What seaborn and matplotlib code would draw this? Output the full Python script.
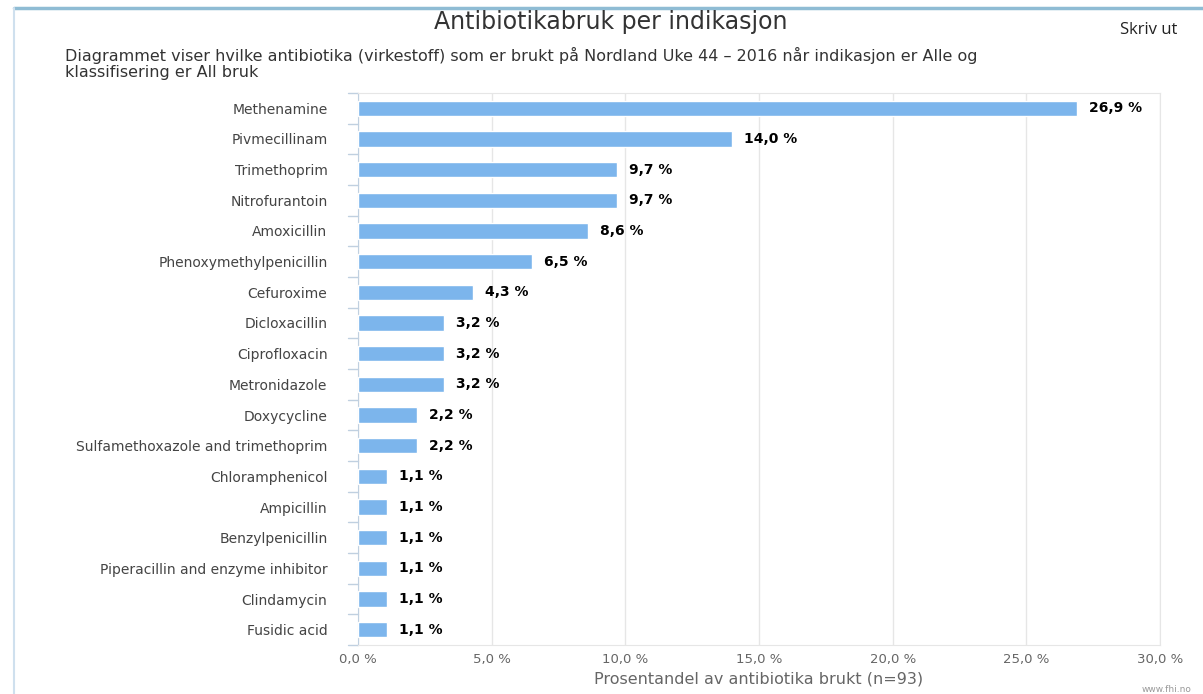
import matplotlib
matplotlib.use("Agg")
import matplotlib.pyplot as plt
import seaborn as sns
import pandas as pd
from matplotlib.lines import Line2D

categories = ["Methenamine", "Pivmecillinam", "Trimethoprim", "Nitrofurantoin",
              "Amoxicillin", "Phenoxymethylpenicillin", "Cefuroxime", "Dicloxacillin",
              "Ciprofloxacin", "Metronidazole", "Doxycycline",
              "Sulfamethoxazole and trimethoprim", "Chloramphenicol", "Ampicillin",
              "Benzylpenicillin", "Piperacillin and enzyme inhibitor", "Clindamycin",
              "Fusidic acid"]
values = [26.9, 14.0, 9.7, 9.7, 8.6, 6.5, 4.3, 3.2, 3.2, 3.2, 2.2, 2.2,
          1.1, 1.1, 1.1, 1.1, 1.1, 1.1]
xticks = [0, 5, 10, 15, 20, 25, 30]

df = pd.DataFrame({"cat": categories, "val": values})

sns.set_style("white")
plt.rcParams['font.family'] = ['DejaVu Sans']

fig = plt.figure(figsize=(12.03, 6.94), dpi=100)
ax = fig.add_axes([358/1203, 1-645/694, (1160-358)/1203, (645-93)/694])

sns.barplot(data=df, y="cat", x="val", color="#7cb5ec", saturation=1,
            width=0.5, orient="h", ax=ax, zorder=3)

ax.set_xlim(0, 30)
ax.set_ylim(len(categories)-0.5, -0.5)
ax.set_xticks(xticks)
ax.set_xticklabels([f"{t:.1f} %".replace(".", ",") for t in xticks],
                   color="#666666", fontsize=9.5)
ax.tick_params(axis="x", length=0, pad=6)
ax.tick_params(axis="y", length=0, pad=22, labelsize=10, labelcolor="#444444")
ax.grid(axis="x", color="#e6e6e6", linewidth=1, zorder=0)
ax.set_axisbelow(True)
ax.set_ylabel("")
ax.set_xlabel("Prosentandel av antibiotika brukt (n=93)", color="#666666",
              fontsize=11.5, labelpad=4)
for s in ["top", "right", "bottom"]:
    ax.spines[s].set_color("#e6e6e6")
ax.spines["left"].set_color("#c0d0e0")

# category boundary ticks on the left
for i in range(len(categories)+1):
    ax.plot([-0.012, 0], [i-0.5, i-0.5], transform=ax.get_yaxis_transform(),
            color="#c0d0e0", lw=1, clip_on=False)

for i, v in enumerate(values):
    ax.text(v + 0.45, i, f"{v:.1f} %".replace(".", ","), va="center", ha="left",
            fontsize=10, fontweight="bold", color="black")

fig.text(611/1203, 1-22/694, "Antibiotikabruk per indikasjon", ha="center",
         va="center", fontsize=17, color="#333333")
fig.text(1149/1203, 1-30/694, "Skriv ut", ha="center", va="center",
         fontsize=12, color="#222222", family="Open Sans")
fig.text(65/1203, 1-55/694,
         "Diagrammet viser hvilke antibiotika (virkestoff) som er brukt på Nordland Uke 44 – 2016 når indikasjon er Alle og",
         ha="left", va="center", fontsize=11.5, color="#333333")
fig.text(65/1203, 1-72/694, "klassifisering er All bruk",
         ha="left", va="center", fontsize=11.5, color="#333333")
fig.text(1192/1203, 1-690/694, "www.fhi.no", ha="right", va="center",
         fontsize=6.5, color="#999999")

# page borders
fig.add_artist(Line2D([14/1203, 1], [1-8/694, 1-8/694], color="#8fbcd4", lw=2.5,
                      transform=fig.transFigure))
fig.add_artist(Line2D([14/1203, 14/1203], [0, 1-8/694], color="#cfe0ee", lw=1.5,
                      transform=fig.transFigure))

fig.savefig("out.png", dpi=100)
